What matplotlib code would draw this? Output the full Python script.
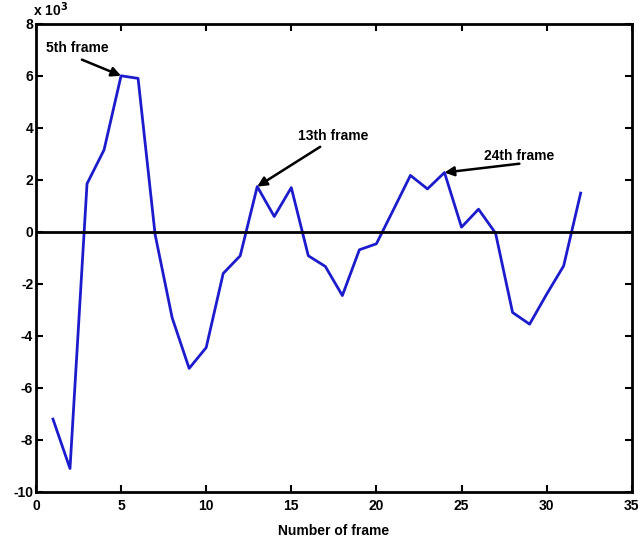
import numpy as np
import matplotlib.pyplot as plt

plt.rcParams['font.family'] = ['Liberation Sans', 'DejaVu Sans']
plt.rcParams['font.weight'] = 'bold'
plt.rcParams['axes.unicode_minus'] = False

frames = np.arange(1, 33)
values = [-7.2, -9.1, 1.85, 3.15, 6.0, 5.9, -0.1, -3.3, -5.25, -4.45,
          -1.6, -0.92, 1.74, 0.59, 1.70, -0.92, -1.33, -2.45, -0.69, -0.46,
          0.85, 2.17, 1.65, 2.28, 0.18, 0.87, -0.05, -3.1, -3.55, -2.4,
          -1.31, 1.49]

labels = ['5th frame', '13th frame', '24th frame']
label_pos = [(2.45, 7.05), (17.45, 3.7), (28.4, 2.92)]
arrow_tail = [(2.7, 6.62), (16.7, 3.27), (28.4, 2.62)]
arrow_head = [(5.0, 6.0), (13.0, 1.74), (24.0, 2.28)]

fig = plt.figure(figsize=(6.42, 5.4), dpi=100)
ax = fig.add_axes([0.056, 0.089, 0.928, 0.867])

ax.plot(frames, values, color='#1c1ccc', lw=2)
ax.axhline(0, color='black', lw=2)

ax.set_xlim(0, 35)
ax.set_ylim(-10, 8)
ax.set_xticks(range(0, 36, 5))
ax.set_yticks(range(-10, 9, 2))
ax.tick_params(direction='in', length=5, width=1.5, top=True, right=True,
               labelsize=10)
ax.tick_params(axis='x', pad=5)
ax.tick_params(axis='y', pad=2)
for s in ax.spines.values():
    s.set_linewidth(2)
ax.set_xlabel('Number of frame', fontsize=10, fontweight='bold', labelpad=8)

ax.text(-0.2, 8.3, r'x 10$^{3}$', fontsize=10, fontweight='bold')

arr = dict(arrowstyle='-|>', color='black', lw=1.8, mutation_scale=14,
           shrinkA=0, shrinkB=0)
for lab, p, t, h in zip(labels, label_pos, arrow_tail, arrow_head):
    ax.text(p[0], p[1], lab, fontsize=10, fontweight='bold',
            ha='center', va='center')
    ax.annotate('', xy=h, xytext=t, arrowprops=arr)

fig.savefig('out.png', dpi=100)
